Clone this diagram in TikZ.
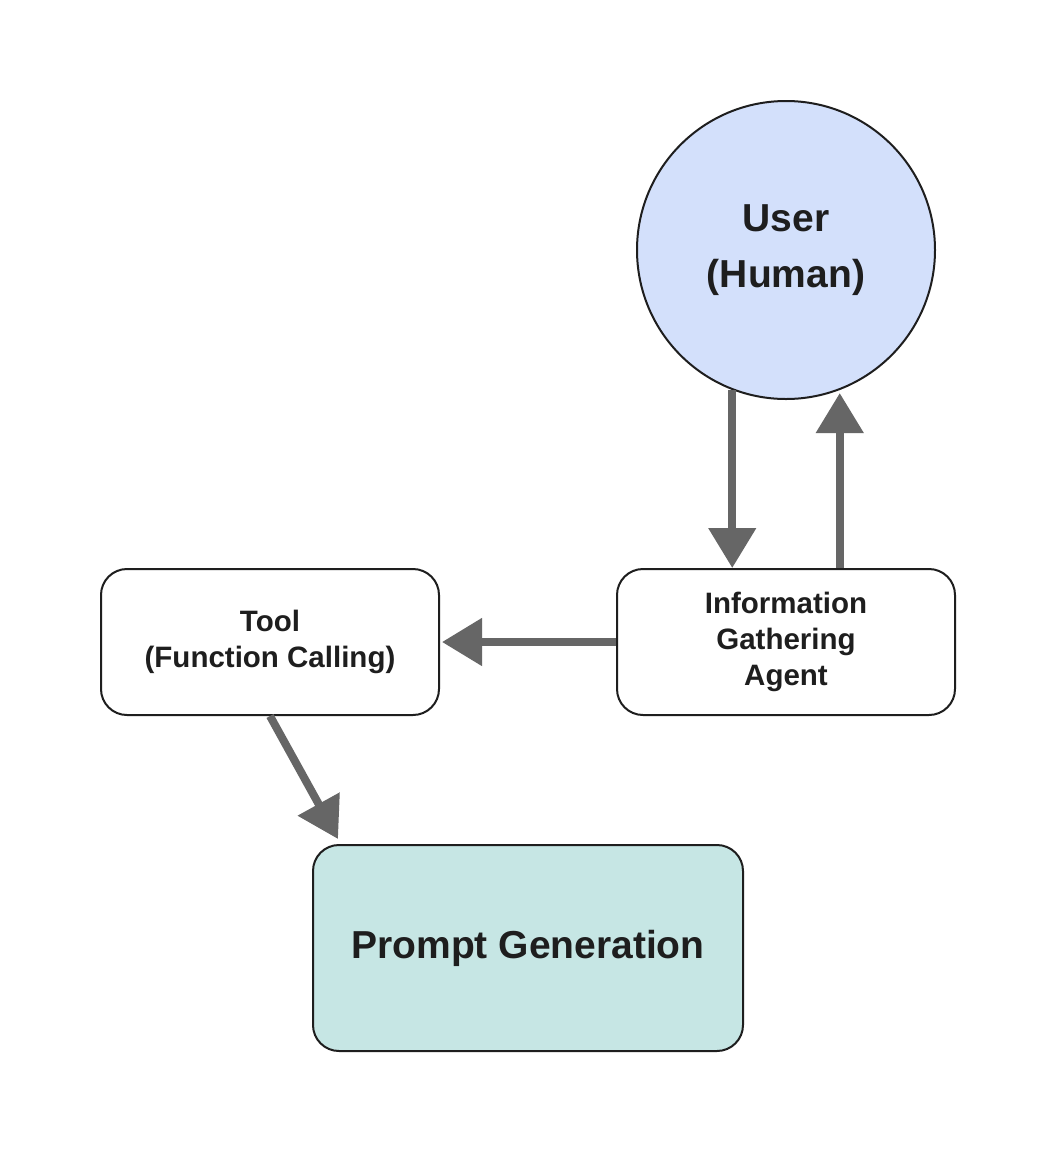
\documentclass[tikz,border=0pt]{standalone}
\usepackage{fontspec}
\setmainfont{Liberation Sans}
\usetikzlibrary{arrows.meta,shapes.geometric}
\definecolor{userblue}{RGB}{211,224,251}
\definecolor{promptteal}{RGB}{198,230,228}
\definecolor{edgegray}{RGB}{102,102,102}
\definecolor{ink}{RGB}{30,30,30}
\begin{document}
\begin{tikzpicture}[x=1pt,y=-1pt,
  shapeline/.style={draw=ink, line width=2pt, text=ink, align=center, font=\bfseries},
  roundbox/.style={shapeline, rectangle, rounded corners=26pt, inner sep=0pt},
  smalltext/.style={font=\bfseries\fontsize{29.5}{36}\selectfont},
  bigtext/.style={font=\bfseries\fontsize{39}{56}\selectfont},
  arr/.style={draw=edgegray, line width=8pt, -{Triangle[length=40pt,width=46pt]}, fill=edgegray}
]
\useasboundingbox (0,0) rectangle (1056,1152);
\fill[white] (0,0) rectangle (1056,1152);

\node[shapeline, circle, fill=userblue, minimum size=298pt, inner sep=0pt, bigtext] (user) at (786,250) {User\\(Human)};
\node[roundbox, fill=white, minimum width=338pt, minimum height=146pt, smalltext] (info) at (786,642) {Information\\Gathering\\Agent};
\node[roundbox, fill=white, minimum width=338pt, minimum height=146pt, smalltext] (tool) at (270,642) {Tool\\(Function Calling)};
\node[roundbox, fill=promptteal, minimum width=430pt, minimum height=206pt, bigtext] (prompt) at (528,948) {Prompt Generation};

\draw[arr] (user.-111.25) -- (user.-111.25 |- info.north);
\draw[arr] (user.-69.6 |- info.north) -- ([yshift=-3pt]user.-69.6);
\draw[arr] (info.west) -- ([xshift=2pt]tool.east);
\draw[arr] (tool.south) -- ([xshift=26pt,yshift=5pt]prompt.north west);
\end{tikzpicture}
\end{document}
